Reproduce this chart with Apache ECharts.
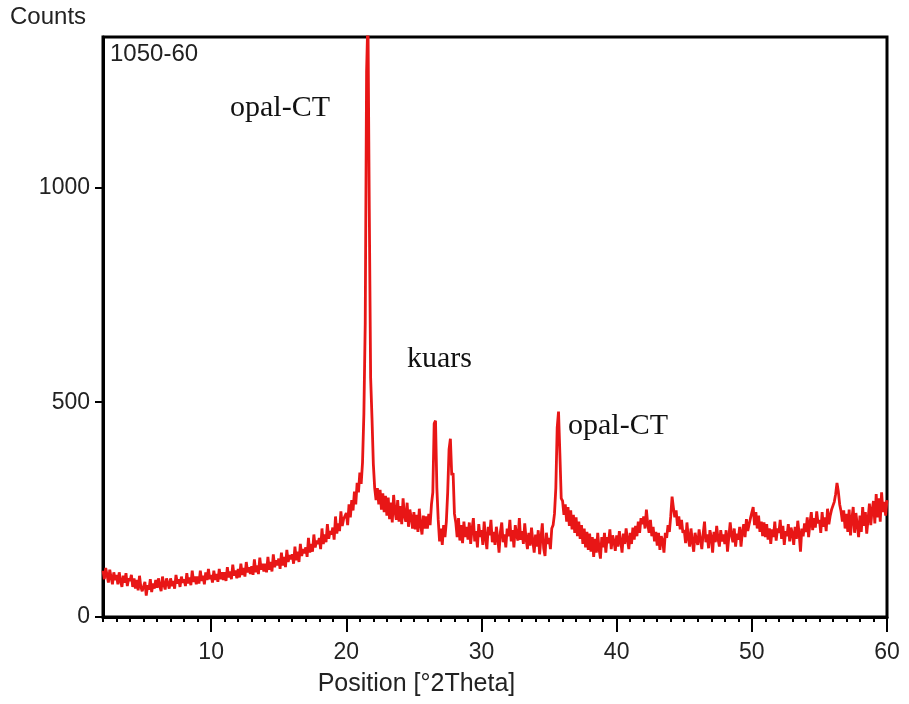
<!DOCTYPE html>
<html>
<head>
<meta charset="utf-8">
<script src="https://cdn.jsdelivr.net/npm/echarts@6/dist/echarts.min.js"></script>
<style>
html,body{margin:0;padding:0;background:#fff;}
#chart{width:909px;height:704px;}
</style>
</head>
<body>
<div id="chart"></div>
<script>
// Sampling step (°2θ) of the recorded pattern
const sampleStep = 0.1;

// Counts, one value per 0.1°, segment start in °2θ
const counts_02_0 = [108,88,114,98,80,110,92,76,104,86, 98,76,104,84,70,96,80,102,72,90, 84,98,70,90,66,86,62,96,70,60, 58,82,50,74,64,88,58,78,66,86, 68,90,72,60,94,76,64,90,78,66, 90,72,84,66,98,78,88,70,94,80, 88,72,102,78,92,74,108,82,94,76, 94,78,108,84,96,76,104,86,112,88];
const counts_10_0 = [98,80,108,86,100,82,112,88,104,86, 104,84,116,92,106,88,122,96,108,90, 112,92,124,98,114,94,128,104,116,100, 118,98,134,104,120,100,138,110,124,106, 124,104,140,110,128,106,146,116,132,120, 136,112,150,120,140,116,156,128,144,134, 146,124,164,132,152,128,170,142,158,148, 162,140,184,150,170,152,192,162,178,170, 184,158,206,170,192,174,216,182,200,192, 208,180,234,194,218,200,246,212,228,224];
const counts_20_0 = [242,214,262,232,272,248,292,262,312,290, 336,310,360,473,684,1269,1400,948,557,463, 356,300,272,300,262,296,250,288,244,282];
const counts_23_0 = [236,278,228,266,220,284,246,226,272,222, 258,216,276,236,222,266,210,250,232,206, 244,204,238,198,252,214,192,236,206,234];
const counts_26_0 = [206,240,214,262,290,450,457,300,226,176, 206,168,214,186,222,290,390,415,330,335, 240,220,186,230,178,214,172,222,186,210];
const counts_29_0 = [180,220,170,204,230,176,200,162,216,186, 202,168,222,184,158,210,190,226,174,198, 168,210,184,150,198,220,174,192,162,206, 188,226,176,202,162,214,190,178,230,180, 200,170,218,182,158,196,166,208,176,150, 192,164,202,146,184,218,160,142,196,170];
const counts_35_0 = [184,158,206,214,240,300,440,478,380,276, 270,238,262,222,256,212,248,204,238,196, 232,188,222,182,214,170,206,162,198,156, 194,152,186,140,182,150,196,158,136,186];
const counts_39_0 = [162,196,150,186,172,204,158,190,176,154, 190,164,200,176,150,194,170,206,180,158, 196,170,208,180,212,188,222,196,230,216, 234,206,250,216,196,226,188,210,176,198, 166,196,156,188,178,150,196,184,214,198, 234,280,254,232,248,212,234,204,226,196];
const counts_45_0 = [202,172,220,184,164,206,176,152,196,180, 168,204,180,158,194,222,174,192,160,202, 186,150,198,174,212,182,164,202,176,192, 170,202,152,186,220,190,174,206,164,194, 180,210,164,198,216,186,228,200,216,230];
const counts_50_0 = [230,256,214,244,206,236,198,222,188,220, 186,216,180,206,170,204,186,222,178,206, 196,226,182,212,168,200,188,216,176,208, 194,168,210,182,224,194,152,206,188,218, 198,232,186,218,244,202,230,208,246,218, 226,196,244,210,232,200,252,216,236,250];
const counts_56_0 = [250,268,286,312,292,262,246,222,248,206, 240,198,250,190,228,256,196,242,214,186, 236,198,256,212,244,194,228,264,214,250, 270,218,286,232,276,222,290,244,268,236,272];

const segments = [
  [2.0, counts_02_0], [10.0, counts_10_0], [20.0, counts_20_0], [23.0, counts_23_0],
  [26.0, counts_26_0], [29.0, counts_29_0], [35.0, counts_35_0], [39.0, counts_39_0],
  [45.0, counts_45_0], [50.0, counts_50_0], [56.0, counts_56_0]
];

// Axis ticks
const xMajorTicks = [10, 20, 30, 40, 50, 60];
const yTicks = [0, 500, 1000];

// Annotations
const sampleName = '1050-60';
const peakLabels = ['opal-CT', 'kuars', 'opal-CT'];

const data = [];
segments.forEach(function (s) {
  s[1].forEach(function (v, i) {
    data.push([Math.round((s[0] + i * sampleStep) * 10) / 10, v]);
  });
});

const chart = echarts.init(document.getElementById('chart'), null, {renderer: 'canvas'});
const sans = 'Liberation Sans, Arial, sans-serif';
const serif = 'Liberation Serif, Times New Roman, serif';

chart.setOption({
  animation: false,
  backgroundColor: '#ffffff',
  grid: {left: 103, right: 22, top: 37, bottom: 87, show: true, borderColor: '#000', borderWidth: 3, backgroundColor: 'transparent'},
  xAxis: [{
    type: 'value', min: 2, max: 60, position: 'bottom',
    axisLine: {show: true, onZero: false, lineStyle: {color: '#000', width: 3}},
    axisTick: {show: true, length: 15, customValues: xMajorTicks, lineStyle: {color: '#000', width: 2}},
    axisLabel: {show: true, customValues: xMajorTicks, margin: 24, color: '#222', fontSize: 23, fontFamily: sans,
      formatter: function (v) { return String(v); }},
    splitLine: {show: false},
    name: 'Position [°2Theta]', nameLocation: 'middle', nameGap: 55,
    nameTextStyle: {color: '#222', fontSize: 25, fontFamily: sans, padding: [0, 157, 0, 0]}
  }, {
    type: 'value', min: 2, max: 60, interval: 1, position: 'bottom',
    axisLine: {show: false, onZero: false},
    axisTick: {show: true, length: 5, lineStyle: {color: '#000', width: 2}},
    axisLabel: {show: false},
    splitLine: {show: false}
  }],
  yAxis: {
    type: 'value', min: 0, max: 1350,
    axisLine: {show: true, onZero: false, lineStyle: {color: '#000', width: 3}},
    axisTick: {show: true, length: 8, customValues: yTicks, lineStyle: {color: '#000', width: 2}},
    axisLabel: {show: true, customValues: yTicks, margin: 13, color: '#222', fontSize: 23, fontFamily: sans,
      formatter: function (v) { return String(v); }},
    splitLine: {show: false}
  },
  series: [{
    type: 'line', xAxisIndex: 0, yAxisIndex: 0,
    data: data, showSymbol: false, symbol: 'none', clip: true,
    lineStyle: {color: '#e81616', width: 2.8},
    z: 1
  }],
  graphic: [
    {type: 'text', left: 10, top: 5, style: {text: 'Counts', fill: '#222', font: '24px ' + sans}},
    {type: 'text', left: 110, top: 42, style: {text: sampleName, fill: '#222', font: '24px ' + sans}},
    {type: 'text', left: 230, top: 93, style: {text: peakLabels[0], fill: '#111', font: '30px ' + serif}},
    {type: 'text', left: 407, top: 344, style: {text: peakLabels[1], fill: '#111', font: '30px ' + serif}},
    {type: 'text', left: 568, top: 411, style: {text: peakLabels[2], fill: '#111', font: '30px ' + serif}}
  ]
});
</script>
</body>
</html>
